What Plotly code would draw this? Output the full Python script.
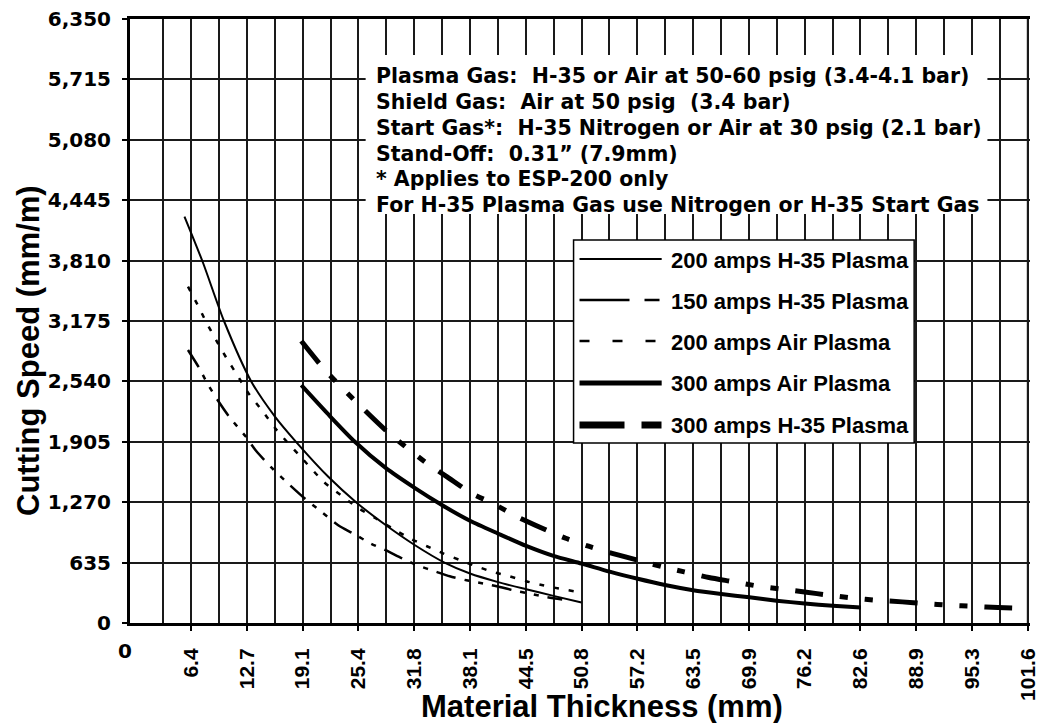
import plotly.graph_objects as go

# ---------------- data ----------------
series_names = ["200 amps H-35 Plasma", "150 amps H-35 Plasma", "200 amps Air Plasma",
                "300 amps Air Plasma", "300 amps H-35 Plasma"]

thick_200_h35 = [5.6, 7.7, 10.1, 13.2, 15.9, 18.3, 22.0, 25.2, 28.5, 31.8, 35.2, 38.1, 41.3, 44.5, 47.6, 50.8]
speed_200_h35 = [4273, 3790, 3175, 2540, 2170, 1905, 1535, 1265, 1030, 820, 635, 520, 430, 355, 285, 215]

thick_150_h35 = [6.0, 7.3, 8.2, 9.5, 10.7, 12.6, 13.7, 15.6, 17.4, 19.3, 21.2, 23.1, 24.8, 26.8, 28.5, 30.4,
                 32.1, 34.3, 35.8, 37.7, 39.6, 41.5, 43.0, 44.9, 46.7, 48.6]
speed_150_h35 = [2870, 2677, 2519, 2326, 2168, 1957, 1817, 1625, 1467, 1309, 1168, 1028, 941, 836, 765, 678,
                 607, 537, 491, 449, 415, 379, 344, 309, 274, 246]

thick_200_air = [6.0, 7.1, 8.05, 9.2, 10.4, 11.6, 12.9, 14.4, 16.1, 18.9, 21.5, 23.4, 25.3, 27.4, 29.3, 31.3,
                 33.2, 35.1, 37.0, 38.8, 40.7, 42.6, 44.5, 46.4, 48.2, 50.8]
speed_200_air = [3536, 3344, 3168, 2975, 2783, 2607, 2414, 2238, 2028, 1740, 1480, 1344, 1214, 1099, 993, 888,
                 807, 730, 660, 597, 537, 491, 439, 397, 362, 320]

thick_300_air = [18.9, 21.9, 25.0, 28.5, 31.8, 34.9, 38.1, 41.3, 44.5, 47.6, 50.8, 54.0, 57.2, 60.3, 63.5,
                 66.7, 69.9, 73.0, 76.2, 79.4, 82.6]
speed_300_air = [2500, 2200, 1905, 1630, 1420, 1240, 1075, 940, 810, 705, 625, 540, 465, 400, 345,
                 305, 270, 235, 205, 182, 162]

thick_300_h35 = [18.9, 21.6, 23.8, 26.1, 28.7, 31.0, 33.2, 35.5, 38.3, 40.7, 43.5, 46.0, 49.0, 51.6, 54.4,
                 57.2, 60.1, 62.5, 65.3, 68.0, 71.0, 73.4, 76.2, 79.0, 81.9, 84.3, 87.3, 89.9, 92.7, 95.4,
                 98.2, 101.6]
speed_300_h35 = [2965, 2659, 2449, 2238, 2010, 1835, 1678, 1536, 1362, 1257, 1116, 1010, 891, 807, 730,
                 660, 589, 537, 478, 435, 386, 358, 326, 292, 260, 240, 222, 204, 186, 175, 162, 152]

x_tick_vals = [6.35, 12.7, 19.05, 25.4, 31.75, 38.1, 44.45, 50.8, 57.15, 63.5, 69.85, 76.2, 82.55,
               88.9, 95.25, 101.6]
x_tick_text = ["6.4", "12.7", "19.1", "25.4", "31.8", "38.1", "44.5", "50.8", "57.2", "63.5", "69.9",
               "76.2", "82.6", "88.9", "95.3", "101.6"]
x_minor_grid = [3.175, 9.525, 15.875, 22.225, 28.575, 34.925, 41.275, 47.625, 53.975, 60.325, 66.675,
                73.025, 79.375, 85.725, 92.075, 98.425]
y_tick_vals = [0, 635, 1270, 1905, 2540, 3175, 3810, 4445, 5080, 5715, 6350]
y_tick_text = ["0", "635", "1,270", "1,905", "2,540", "3,175", "3,810", "4,445", "5,080", "5,715", "6,350"]

note_lines = [
    "Plasma Gas:\u00a0 H-35 or Air at 50-60 psig (3.4-4.1 bar)",
    "Shield Gas:\u00a0 Air at 50 psig\u00a0 (3.4 bar)",
    "Start Gas*:\u00a0 H-35 Nitrogen or Air at 30 psig (2.1 bar)",
    "Stand-Off:\u00a0 0.31\u201d (7.9mm)",
    "* Applies to ESP-200 only",
    "For H-35 Plasma Gas use Nitrogen or H-35 Start Gas",
]

# ---------------- layout geometry ----------------
W, H = 1044, 723
L, R, T, B = 130, 5, 19, 100
PW = W - L - R
PH = H - T - B


def fx(xp):
    return (xp - L) / PW


def fy(yp):
    return (H - B - yp) / PH


xs = [thick_200_h35, thick_150_h35, thick_200_air, thick_300_air, thick_300_h35]
ys = [speed_200_h35, speed_150_h35, speed_200_air, speed_300_air, speed_300_h35]
line_styles = [
    dict(color="black", width=2, dash="solid"),
    dict(color="black", width=2.5, dash="20px,9px,5px,9px,5px,9px"),
    dict(color="black", width=2.5, dash="5px,10px"),
    dict(color="black", width=4, dash="solid"),
    dict(color="black", width=5, dash="28px,17px,8px,17px,8px,17px"),
]
legend_styles = [
    dict(color="black", width=2, dash="solid"),
    dict(color="black", width=2.5, dash="50px,15px,15px,100px"),
    dict(color="black", width=2.5, dash="10px,23px"),
    dict(color="black", width=5, dash="solid"),
    dict(color="black", width=7, dash="45px,17px,20px,100px"),
]

fig = go.Figure()
for name, x, y, st in zip(series_names, xs, ys, line_styles):
    fig.add_trace(go.Scatter(x=x, y=y, mode="lines", name=name, line=dict(shape="spline", smoothing=0.7, **st),
                             showlegend=False))

ytick_font = dict(family="DejaVu Sans", size=20, color="black", weight="bold")
xtick_font = dict(family="Liberation Sans", size=21, color="black", weight="bold")
grid_col = "#1a1a1a"

fig.update_layout(
    width=W, height=H,
    margin=dict(l=L, r=R, t=T, b=B),
    paper_bgcolor="white", plot_bgcolor="white",
    xaxis=dict(range=[-0.6, 101.85], tickmode="array", tickvals=x_tick_vals, ticktext=x_tick_text,
               tickangle=-90, ticks="outside", ticklen=5, tickwidth=1.5, tickcolor="black",
               showgrid=True, gridcolor=grid_col, gridwidth=1.7,
               minor=dict(tickmode="array", tickvals=x_minor_grid, showgrid=True,
                          gridcolor=grid_col, gridwidth=1.7, ticks=""),
               showline=True, linewidth=3, linecolor="black", mirror=True, zeroline=False,
               tickfont=xtick_font, ticklabelstandoff=9, ticklabeloverflow="allow"),
    yaxis=dict(range=[0, 6350], tickmode="array", tickvals=y_tick_vals, ticktext=y_tick_text,
               ticks="outside", ticklen=5, tickwidth=1.5, tickcolor="black",
               showgrid=True, gridcolor=grid_col, gridwidth=1.7,
               showline=True, linewidth=3, linecolor="black", mirror=False, zeroline=False,
               tickfont=ytick_font, ticklabelstandoff=7, ticklabeloverflow="allow"),
    showlegend=False,
)

shapes = []
# right frame line of the grid (at the last x tick)
shapes.append(dict(type="line", xref="x", yref="paper", x0=x_tick_vals[-1], x1=x_tick_vals[-1], y0=0, y1=1,
                   line=dict(color=grid_col, width=2), layer="above"))
# white notes box
shapes.append(dict(type="rect", xref="paper", yref="paper", x0=fx(368), x1=fx(996), y0=fy(214), y1=fy(55),
                   fillcolor="white", line=dict(width=0), layer="above"))
# legend box
shapes.append(dict(type="rect", xref="paper", yref="paper", x0=fx(578), x1=fx(922), y0=fy(443), y1=fy(240),
                   fillcolor="white", line=dict(color="black", width=1.5), layer="above"))
legend_rows = [259, 300, 341, 383, 425]
annotations = []
for name, st, ry in zip(series_names, legend_styles, legend_rows):
    shapes.append(dict(type="line", xref="paper", yref="paper", x0=fx(584), x1=fx(667), y0=fy(ry), y1=fy(ry),
                       line=st, layer="above"))
    annotations.append(dict(xref="paper", yref="paper", x=fx(674), y=fy(ry + 1), xanchor="left",
                            yanchor="middle", text=name, showarrow=False,
                            font=dict(family="Liberation Sans", size=22, color="black", weight="bold")))

note_rows = [76, 102, 128, 154, 179, 205]
for txt, ry in zip(note_lines, note_rows):
    annotations.append(dict(xref="paper", yref="paper", x=fx(376), y=fy(ry), xanchor="left",
                            yanchor="middle", text=txt, showarrow=False,
                            font=dict(family="DejaVu Sans", size=20.5, color="black", weight="bold")))

# x "0" label (horizontal in the reference)
annotations.append(dict(xref="paper", yref="paper", x=fx(125), y=fy(651), xanchor="center", yanchor="middle",
                        text="0", showarrow=False, font=ytick_font))
# axis titles
title_font = dict(family="Liberation Sans", size=31, color="black", weight="bold")
annotations.append(dict(xref="paper", yref="paper", x=fx(607), y=fy(706), xanchor="center", yanchor="middle",
                        text="Material Thickness (mm)", showarrow=False, font=title_font))
annotations.append(dict(xref="paper", yref="paper", x=fx(28), y=fy(351), xanchor="center", yanchor="middle",
                        text="Cutting Speed (mm/m)", textangle=-90, showarrow=False, font=title_font))

fig.update_layout(shapes=shapes, annotations=annotations)
fig.write_html("out.html")
